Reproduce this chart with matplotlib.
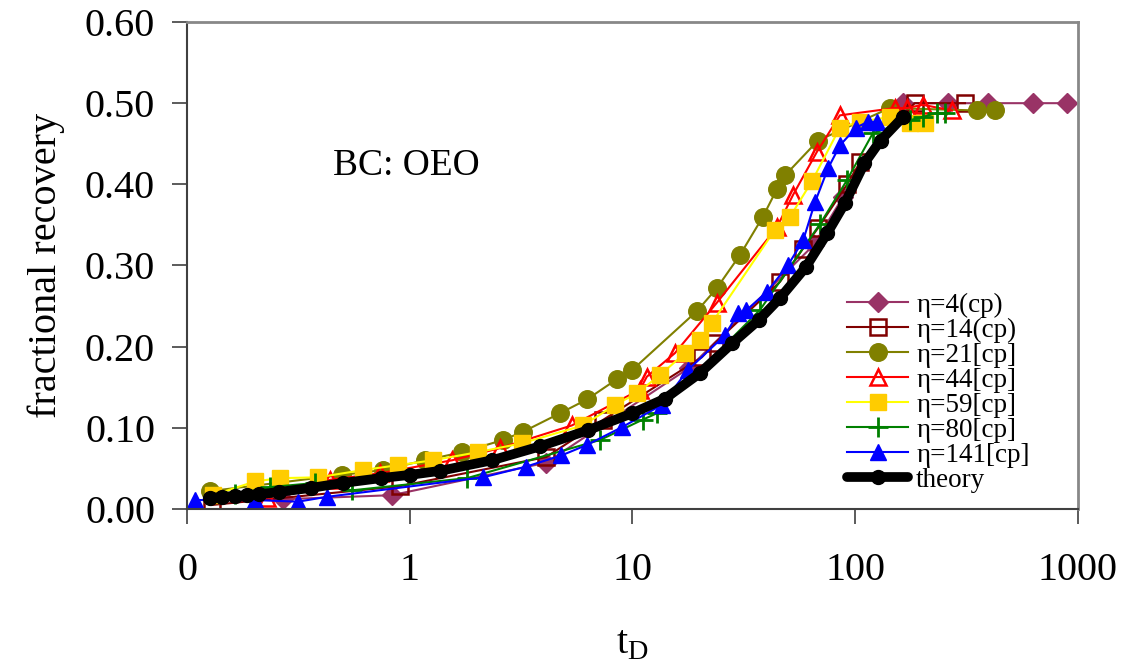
import matplotlib
matplotlib.use("Agg")
import matplotlib.pyplot as plt
from matplotlib.ticker import FixedLocator, FixedFormatter, NullLocator

plt.rcParams["font.family"] = ["Liberation Serif", "DejaVu Serif"]

# eta = 4 cp
t4 = [0.27, 0.83, 4.1, 18, 65, 88, 164, 261, 394, 628, 893]
r4 = [0.012, 0.017, 0.057, 0.174, 0.325, 0.384, 0.50, 0.50, 0.50, 0.50, 0.50]

# eta = 14 cp
t14 = [0.13, 0.9, 4.1, 7.4, 20.5, 23.4, 46, 58, 68, 92, 105, 185, 311]
r14 = [0.005, 0.028, 0.064, 0.11, 0.187, 0.204, 0.28, 0.32, 0.346, 0.40, 0.427, 0.50, 0.50]

# eta = 21 cp
t21 = [0.127, 0.497, 0.76, 1.17, 1.72, 2.62, 3.22, 4.73, 6.25, 8.52, 9.95,
       19.5, 23.9, 30.4, 38.5, 44.5, 48.4, 68.1, 143, 352, 424]
r21 = [0.022, 0.042, 0.048, 0.060, 0.070, 0.085, 0.095, 0.118, 0.135, 0.160, 0.171,
       0.244, 0.272, 0.313, 0.360, 0.394, 0.411, 0.454, 0.494, 0.491, 0.491]

# eta = 44 cp
t44 = [0.229, 0.439, 0.735, 1.55, 2.54, 5.35, 10.8, 11.6, 15.5, 23.9, 44.5,
       52.6, 67.3, 85.4, 151, 171, 201, 272]
r44 = [0.0135, 0.036, 0.044, 0.060, 0.075, 0.103, 0.147, 0.163, 0.192, 0.254, 0.347,
       0.387, 0.440, 0.485, 0.494, 0.494, 0.498, 0.491]

# eta = 59 cp
t59 = [0.131, 0.202, 0.262, 0.388, 0.617, 0.886, 1.27, 2.02, 3.19, 6.0, 8.35,
       10.5, 13.3, 17.2, 20.1, 22.7, 43.6, 51.0, 64.0, 85.4, 105, 143, 176, 206]
r59 = [0.017, 0.034, 0.038, 0.039, 0.048, 0.054, 0.060, 0.070, 0.081, 0.103, 0.128,
       0.143, 0.165, 0.192, 0.208, 0.229, 0.344, 0.360, 0.404, 0.470, 0.477, 0.483, 0.475, 0.475]

# eta = 80 cp
t80 = [0.164, 0.236, 0.376, 0.551, 1.81, 7.15, 11.1, 12.9, 37.3, 69.5, 91.8,
       120, 176, 201, 233, 252]
r80 = [0.018, 0.027, 0.032, 0.023, 0.038, 0.085, 0.110, 0.118, 0.245, 0.351, 0.405,
       0.463, 0.479, 0.483, 0.488, 0.488]

# eta = 141 cp
t141 = [0.109, 0.202, 0.315, 0.425, 2.13, 3.31, 4.8, 6.25, 9.0, 13.5, 17.7, 26.0,
        29.8, 32.5, 40.0, 49.8, 58.4, 66.0, 75.6, 85.4, 101, 114, 125]
r141 = [0.011, 0.011, 0.009, 0.015, 0.039, 0.052, 0.066, 0.079, 0.101, 0.128, 0.171, 0.214,
        0.241, 0.245, 0.267, 0.300, 0.331, 0.378, 0.420, 0.448, 0.470, 0.477, 0.477]

# theory
t_th = [0.127, 0.144, 0.164, 0.186, 0.21, 0.26, 0.36, 0.5, 0.74, 1.0, 1.37, 2.34,
        3.83, 6.3, 10, 14, 20, 28, 37, 46, 60, 75, 90, 110, 130, 164]
r_th = [0.0135, 0.015, 0.016, 0.017, 0.018, 0.021, 0.026, 0.032, 0.038, 0.042, 0.047, 0.060,
        0.077, 0.097, 0.118, 0.136, 0.167, 0.204, 0.233, 0.26, 0.298, 0.34, 0.377, 0.426, 0.454, 0.483]

xticks = [0.1, 1, 10, 100, 1000]
xticklabels = ["0", "1", "10", "100", "1000"]
yticks = [0.0, 0.1, 0.2, 0.3, 0.4, 0.5, 0.6]

fig = plt.figure(figsize=(11.24, 6.63), dpi=100)
ax = fig.add_axes([0.1664, 0.2323, 0.7926, 0.7345])

ms = 11.5
lw = 1.5
ax.plot(t4, r4, color="#993366", lw=lw, marker="D", ms=ms * 0.85,
        mfc="#993366", mec="#993366", label="η=4(cp)")
ax.plot(t14, r14, color="#800000", lw=lw, marker="s", ms=ms * 0.95,
        mfc="none", mec="#800000", mew=1.8, label="η=14(cp)")
ax.plot(t21, r21, color="#808000", lw=lw, marker="o", ms=ms * 1.1,
        mfc="#808000", mec="#808000", label="η=21[cp]")
ax.plot(t44, r44, color="#FF0000", lw=lw, marker="^", ms=ms,
        mfc="none", mec="#FF0000", mew=1.8, label="η=44[cp]")
ax.plot(t59, r59, color="#FFFF00", lw=lw, marker="s", ms=ms,
        mfc="#FFCC00", mec="#FFCC00", label="η=59[cp]")
ax.plot(t80, r80, color="#008000", lw=lw, marker="+", ms=ms * 1.2,
        mew=2, mec="#008000", label="η=80[cp]")
ax.plot(t141, r141, color="#0000FF", lw=lw, marker="^", ms=ms,
        mfc="#0000FF", mec="#0000FF", label="η=141[cp]")
ax.plot(t_th, r_th, color="black", lw=7, marker="o", ms=10,
        solid_capstyle="round", label="theory")

ax.set_xscale("log")
ax.set_xlim(0.1, 1000)
ax.set_ylim(0, 0.6)
ax.xaxis.set_major_locator(FixedLocator(xticks))
ax.xaxis.set_major_formatter(FixedFormatter(xticklabels))
ax.xaxis.set_minor_locator(NullLocator())
ax.set_yticks(yticks)
ax.set_yticklabels([f"{v:.2f}" for v in yticks])

for s in ["left", "bottom"]:
    ax.spines[s].set_color("#404040")
    ax.spines[s].set_linewidth(1.5)
for s in ["top", "right"]:
    ax.spines[s].set_color("#888888")
    ax.spines[s].set_linewidth(2)

ax.tick_params(axis="both", direction="out", length=11, width=1.2,
               color="#404040", labelsize=29)
ax.tick_params(axis="x", pad=20)
ax.tick_params(axis="y", pad=12)

ax.set_xlabel("t$_\\mathregular{D}$", fontsize=29, labelpad=26)
ax.set_ylabel("fractional recovery", fontsize=29, labelpad=14)

ax.text(0.164, 0.686, "BC: OEO", fontsize=27, transform=ax.transAxes)

ax.legend(loc="upper left", bbox_to_anchor=(0.741, 0.4445), frameon=False,
          fontsize=19.5, labelspacing=0.0, handlelength=2.25, handletextpad=0.3,
          borderpad=0, borderaxespad=0)

fig.savefig("out.png", dpi=100)
